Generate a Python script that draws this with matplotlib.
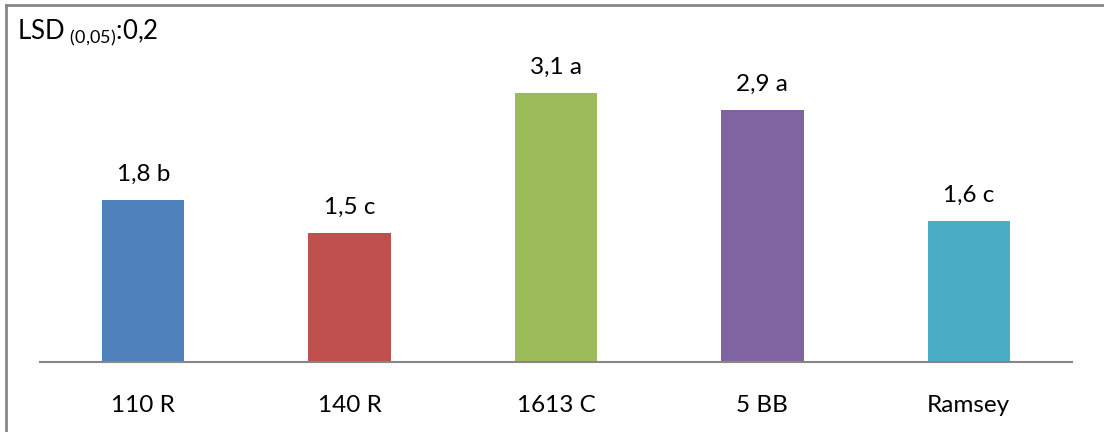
import matplotlib.pyplot as plt
import numpy as np

plt.rcParams['font.family'] = ['Lato', 'DejaVu Sans']
plt.rcParams['mathtext.fontset'] = 'custom'
plt.rcParams['mathtext.rm'] = 'Lato'

categories = ['110 R', '140 R', '1613 C', '5 BB', 'Ramsey']
values = [1.86, 1.48, 3.10, 2.90, 1.62]
value_labels = ['1,8 b', '1,5 c', '3,1 a', '2,9 a', '1,6 c']
colors = ['#4F81BD', '#C0504D', '#9BBB59', '#8064A2', '#4BACC6']

W, H = 1104, 432
fig = plt.figure(figsize=(W / 100, H / 100), dpi=100)
ax = fig.add_axes([40 / W, 1 - 361.5 / H, 1032 / W, 346.8 / H])

x = np.arange(len(categories))
ax.bar(x, values, width=0.40, color=colors, zorder=2)
for xi, v, lab in zip(x, values, value_labels):
    ax.annotate(lab, (xi, v), xytext=(0, 11), textcoords='offset points',
                ha='center', va='bottom', fontsize=17.5, color='black')

ax.set_xlim(-0.5, len(categories) - 0.5)
ax.set_ylim(0, 4)
ax.set_xticks(x)
ax.set_xticklabels(categories, fontsize=17.5)
ax.tick_params(axis='x', length=0, pad=24)
ax.set_yticks([])
for s in ['top', 'right', 'left']:
    ax.spines[s].set_visible(False)
ax.spines['bottom'].set_color('#868686')
ax.spines['bottom'].set_linewidth(1.5)

# chart frame (only top and left visible in the crop)
fig.add_artist(plt.Line2D([6 / W, 6 / W], [0, 1 - 5 / H], color='#888888', lw=2))
fig.add_artist(plt.Line2D([6 / W, 1], [1 - 5 / H, 1 - 5 / H], color='#888888', lw=2))

fig.text(17 / W, 1 - 38.5 / H, r'LSD$_{\ \mathrm{(0{,}05)}}$:0,2', fontsize=18.5, va='baseline')

fig.savefig('out.png', dpi=100)
